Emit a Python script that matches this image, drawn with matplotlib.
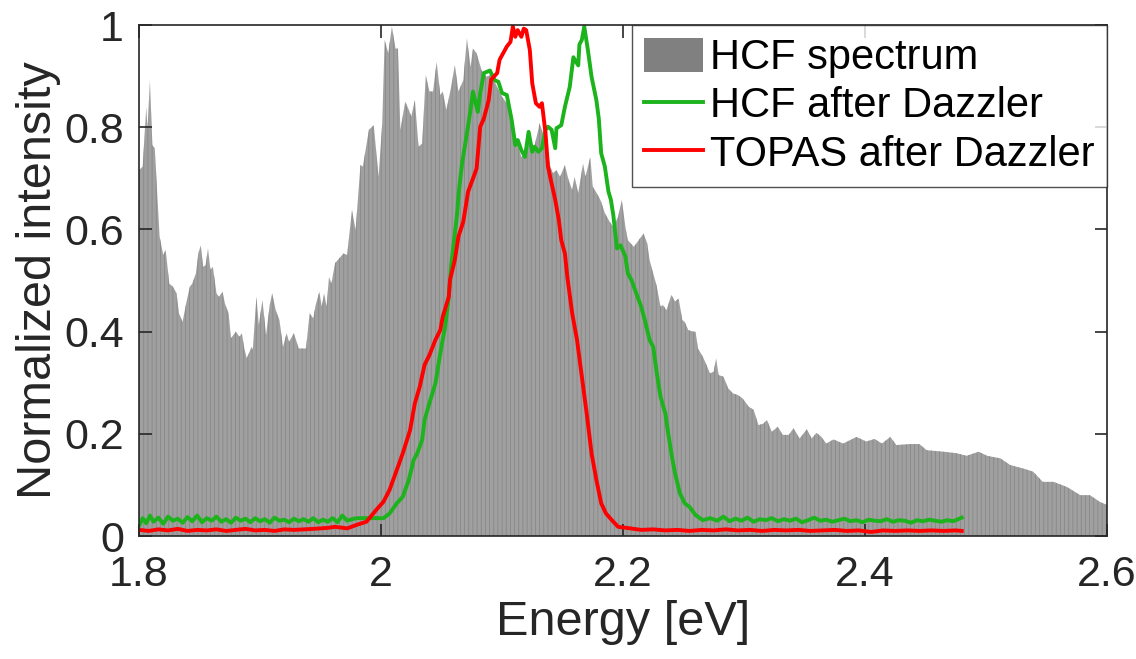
import matplotlib
matplotlib.use("Agg")
import matplotlib.pyplot as plt
from matplotlib.patches import Patch
from matplotlib.lines import Line2D

plt.rcParams['font.family'] = ['Liberation Sans', 'DejaVu Sans']
plt.rcParams['hatch.linewidth'] = 0.6

# HCF spectrum envelope (energy in eV, normalized intensity)
hcf_e = [1.800, 1.803, 1.806, 1.807, 1.809, 1.811, 1.813, 1.815, 1.817, 1.820, 1.822, 1.825,
         1.828, 1.831, 1.833, 1.836, 1.839, 1.842, 1.844, 1.847, 1.849, 1.851, 1.853, 1.855,
         1.857, 1.859, 1.861, 1.864, 1.866, 1.869, 1.871, 1.874, 1.876, 1.880, 1.883, 1.885,
         1.887, 1.889, 1.893, 1.894, 1.897, 1.899, 1.902, 1.905, 1.908, 1.910, 1.913, 1.916,
         1.919, 1.922, 1.924, 1.928, 1.932, 1.938, 1.941, 1.944, 1.946, 1.949, 1.951, 1.953,
         1.955, 1.957, 1.959, 1.962, 1.969, 1.972, 1.976, 1.979, 1.983, 1.985, 1.990, 1.994,
         1.998, 2.001, 2.003, 2.006, 2.009, 2.012, 2.014, 2.016, 2.020, 2.023, 2.025, 2.028,
         2.031, 2.034, 2.037, 2.040, 2.043, 2.046, 2.049, 2.051, 2.054, 2.058, 2.061, 2.064,
         2.068, 2.071, 2.074, 2.076, 2.079, 2.083, 2.087, 2.091, 2.096, 2.100, 2.104, 2.108,
         2.112, 2.116, 2.120, 2.122, 2.126, 2.130, 2.131, 2.136, 2.140, 2.142, 2.145, 2.148,
         2.152, 2.155, 2.158, 2.160, 2.163, 2.167, 2.169, 2.173, 2.175, 2.180, 2.182, 2.185,
         2.189, 2.192, 2.196, 2.199, 2.202, 2.204, 2.209, 2.213, 2.217, 2.220, 2.222, 2.225,
         2.228, 2.231, 2.233, 2.236, 2.240, 2.243, 2.246, 2.249, 2.251, 2.254, 2.258, 2.260,
         2.262, 2.266, 2.269, 2.272, 2.275, 2.277, 2.279, 2.283, 2.287, 2.291, 2.295, 2.299,
         2.304, 2.308, 2.312, 2.316, 2.319, 2.323, 2.328, 2.332, 2.337, 2.341, 2.346, 2.352,
         2.356, 2.360, 2.364, 2.368, 2.374, 2.382, 2.393, 2.401, 2.408, 2.414, 2.421, 2.426,
         2.437, 2.445, 2.451, 2.465, 2.476, 2.484, 2.494, 2.501, 2.512, 2.520, 2.531, 2.539,
         2.547, 2.556, 2.567, 2.578, 2.586, 2.594, 2.600]
hcf_i = [0.716, 0.723, 0.840, 0.795, 0.892, 0.765, 0.759, 0.671, 0.586, 0.550, 0.560, 0.494,
         0.488, 0.475, 0.436, 0.419, 0.456, 0.488, 0.494, 0.514, 0.553, 0.569, 0.527, 0.530,
         0.563, 0.521, 0.527, 0.475, 0.468, 0.478, 0.455, 0.436, 0.387, 0.400, 0.390, 0.397,
         0.367, 0.348, 0.370, 0.364, 0.468, 0.413, 0.462, 0.393, 0.452, 0.475, 0.442, 0.423,
         0.370, 0.397, 0.380, 0.397, 0.367, 0.367, 0.436, 0.426, 0.452, 0.478, 0.449, 0.475,
         0.449, 0.507, 0.494, 0.534, 0.553, 0.550, 0.638, 0.599, 0.726, 0.723, 0.795, 0.804,
         0.703, 0.808, 0.971, 0.945, 0.997, 0.954, 0.954, 0.795, 0.850, 0.834, 0.821, 0.853,
         0.762, 0.768, 0.902, 0.870, 0.870, 0.928, 0.863, 0.870, 0.834, 0.879, 0.922, 0.870,
         0.892, 0.974, 0.918, 0.954, 0.945, 0.912, 0.899, 0.902, 0.879, 0.860, 0.847, 0.814,
         0.775, 0.742, 0.749, 0.795, 0.755, 0.795, 0.808, 0.775, 0.723, 0.710, 0.716, 0.703,
         0.726, 0.697, 0.677, 0.703, 0.671, 0.729, 0.703, 0.742, 0.684, 0.664, 0.654, 0.632,
         0.615, 0.605, 0.625, 0.658, 0.605, 0.579, 0.566, 0.579, 0.592, 0.573, 0.540, 0.514,
         0.488, 0.449, 0.452, 0.442, 0.472, 0.459, 0.465, 0.423, 0.419, 0.403, 0.400, 0.400,
         0.367, 0.351, 0.335, 0.318, 0.322, 0.348, 0.315, 0.312, 0.289, 0.279, 0.276, 0.269,
         0.253, 0.247, 0.217, 0.220, 0.227, 0.204, 0.214, 0.198, 0.198, 0.211, 0.191, 0.209,
         0.191, 0.202, 0.194, 0.181, 0.189, 0.181, 0.194, 0.185, 0.190, 0.181, 0.194, 0.178,
         0.180, 0.180, 0.168, 0.165, 0.162, 0.157, 0.165, 0.157, 0.152, 0.139, 0.132, 0.126,
         0.106, 0.106, 0.096, 0.080, 0.080, 0.067, 0.061]

# HCF after Dazzler (green)
green_e = [1.800, 1.803, 1.806, 1.809, 1.812, 1.816, 1.820, 1.824, 1.828, 1.832, 1.836, 1.840,
           1.844, 1.848, 1.852, 1.856, 1.860, 1.864, 1.868, 1.872, 1.876, 1.880, 1.884, 1.888,
           1.892, 1.896, 1.900, 1.904, 1.908, 1.912, 1.916, 1.920, 1.924, 1.928, 1.932, 1.936,
           1.940, 1.944, 1.948, 1.952, 1.956, 1.960, 1.964, 1.968, 1.972, 1.976, 1.980, 1.985,
           2.002, 2.007, 2.013, 2.018, 2.023, 2.027, 2.030, 2.034, 2.036, 2.040, 2.045, 2.049,
           2.053, 2.056, 2.058, 2.063, 2.064, 2.067, 2.071, 2.074, 2.076, 2.080, 2.082, 2.085,
           2.090, 2.094, 2.097, 2.100, 2.104, 2.108, 2.111, 2.113, 2.116, 2.119, 2.122, 2.125,
           2.127, 2.130, 2.133, 2.136, 2.138, 2.141, 2.144, 2.145, 2.149, 2.152, 2.156, 2.159,
           2.163, 2.164, 2.166, 2.168, 2.171, 2.174, 2.178, 2.180, 2.182, 2.185, 2.188, 2.190,
           2.192, 2.195, 2.198, 2.202, 2.204, 2.207, 2.211, 2.215, 2.218, 2.222, 2.225, 2.228,
           2.231, 2.235, 2.237, 2.240, 2.243, 2.247, 2.251, 2.255, 2.260, 2.266, 2.272, 2.278,
           2.283, 2.288, 2.293, 2.298, 2.303, 2.308, 2.313, 2.318, 2.323, 2.328, 2.333, 2.338,
           2.343, 2.348, 2.353, 2.358, 2.363, 2.368, 2.373, 2.378, 2.383, 2.388, 2.393, 2.398,
           2.403, 2.408, 2.413, 2.418, 2.423, 2.428, 2.433, 2.438, 2.443, 2.448, 2.453, 2.458,
           2.463, 2.468, 2.473, 2.478, 2.480]
green_i = [0.020, 0.035, 0.025, 0.040, 0.028, 0.036, 0.024, 0.038, 0.030, 0.034, 0.026, 0.037,
           0.029, 0.040, 0.027, 0.035, 0.030, 0.038, 0.028, 0.033, 0.026, 0.036, 0.030, 0.034,
           0.027, 0.035, 0.029, 0.033, 0.026, 0.036, 0.030, 0.032, 0.027, 0.034, 0.029, 0.033,
           0.028, 0.035, 0.027, 0.032, 0.028, 0.035, 0.027, 0.040, 0.030, 0.033, 0.035, 0.035,
           0.035, 0.044, 0.064, 0.077, 0.110, 0.149, 0.162, 0.188, 0.227, 0.260, 0.299, 0.358,
           0.410, 0.468, 0.530, 0.632, 0.667, 0.729, 0.788, 0.834, 0.870, 0.830, 0.867, 0.906,
           0.911, 0.892, 0.889, 0.867, 0.863, 0.814, 0.765, 0.775, 0.755, 0.742, 0.791, 0.752,
           0.762, 0.752, 0.759, 0.795, 0.801, 0.795, 0.759, 0.798, 0.804, 0.840, 0.879, 0.937,
           0.921, 0.962, 0.971, 0.997, 0.951, 0.899, 0.853, 0.817, 0.749, 0.723, 0.674, 0.658,
           0.628, 0.563, 0.569, 0.547, 0.514, 0.501, 0.475, 0.449, 0.423, 0.384, 0.370, 0.318,
           0.273, 0.240, 0.207, 0.162, 0.123, 0.084, 0.064, 0.057, 0.041, 0.031, 0.035, 0.030,
           0.038, 0.029, 0.034, 0.030, 0.036, 0.028, 0.033, 0.031, 0.035, 0.029, 0.033, 0.030,
           0.034, 0.027, 0.031, 0.036, 0.030, 0.032, 0.028, 0.031, 0.034, 0.029, 0.031, 0.027,
           0.032, 0.030, 0.029, 0.033, 0.028, 0.031, 0.030, 0.026, 0.031, 0.029, 0.032, 0.030,
           0.028, 0.031, 0.029, 0.034, 0.036]

# TOPAS after Dazzler (red)
red_e = [1.800, 1.808, 1.816, 1.824, 1.832, 1.840, 1.848, 1.856, 1.864, 1.872, 1.880, 1.888,
         1.896, 1.904, 1.912, 1.920, 1.928, 1.936, 1.944, 1.950, 1.956, 1.962, 1.972, 1.980,
         1.988, 1.996, 2.002, 2.007, 2.013, 2.018, 2.024, 2.028, 2.032, 2.036, 2.040, 2.045,
         2.049, 2.051, 2.056, 2.057, 2.061, 2.064, 2.068, 2.072, 2.075, 2.079, 2.082, 2.085,
         2.089, 2.091, 2.096, 2.098, 2.101, 2.104, 2.107, 2.109, 2.111, 2.113, 2.116, 2.118,
         2.120, 2.123, 2.125, 2.128, 2.131, 2.133, 2.136, 2.138, 2.141, 2.144, 2.147, 2.149,
         2.152, 2.154, 2.158, 2.162, 2.166, 2.170, 2.174, 2.178, 2.182, 2.186, 2.192, 2.196,
         2.206, 2.215, 2.225, 2.235, 2.245, 2.255, 2.265, 2.275, 2.285, 2.295, 2.305, 2.315,
         2.325, 2.335, 2.345, 2.355, 2.365, 2.375, 2.385, 2.395, 2.405, 2.415, 2.425, 2.435,
         2.445, 2.455, 2.465, 2.475, 2.480]
red_i = [0.012, 0.010, 0.013, 0.011, 0.014, 0.010, 0.012, 0.011, 0.013, 0.010, 0.012, 0.014,
         0.011, 0.012, 0.010, 0.013, 0.012, 0.013, 0.014, 0.015, 0.016, 0.018, 0.015, 0.022,
         0.028, 0.051, 0.067, 0.090, 0.129, 0.162, 0.207, 0.260, 0.292, 0.335, 0.354, 0.384,
         0.403, 0.429, 0.468, 0.501, 0.540, 0.586, 0.615, 0.674, 0.693, 0.719, 0.801, 0.817,
         0.853, 0.893, 0.906, 0.932, 0.945, 0.958, 0.967, 0.997, 0.977, 0.990, 0.977, 0.993,
         0.990, 0.951, 0.886, 0.847, 0.840, 0.847, 0.788, 0.723, 0.690, 0.658, 0.618, 0.579,
         0.553, 0.507, 0.436, 0.384, 0.312, 0.240, 0.162, 0.110, 0.064, 0.044, 0.028, 0.018,
         0.015, 0.012, 0.013, 0.011, 0.012, 0.010, 0.012, 0.011, 0.013, 0.011, 0.012, 0.010,
         0.012, 0.011, 0.012, 0.010, 0.011, 0.012, 0.010, 0.011, 0.008, 0.011, 0.010, 0.011,
         0.010, 0.011, 0.010, 0.011, 0.010]

labels = ["HCF spectrum", "HCF after Dazzler", "TOPAS after Dazzler"]
GRAY = "#808080"
GREEN = "#1cb31c"
RED = "#ff0000"
DARK = "#262626"
LW = 2.8

fig = plt.figure(figsize=(11.36, 6.59), dpi=100)
ax = fig.add_axes([0.1224, 0.1866, 0.852, 0.7754])

ax.fill_between(hcf_e, 0, hcf_i, facecolor="#a0a0a0", edgecolor="#888888",
                hatch="||||", linewidth=0, zorder=1)
ax.plot(green_e, green_i, color=GREEN, lw=LW, zorder=3)
ax.plot(red_e, red_i, color=RED, lw=LW, zorder=4)

ax.set_xlim(1.8, 2.6)
ax.set_ylim(0, 1)
ax.set_xticks([1.8, 2.0, 2.2, 2.4, 2.6])
ax.set_xticklabels(["1.8", "2", "2.2", "2.4", "2.6"])
ax.set_yticks([0, 0.2, 0.4, 0.6, 0.8, 1.0])
ax.set_yticklabels(["0", "0.2", "0.4", "0.6", "0.8", "1"])
ax.tick_params(direction="in", length=9, width=1.2, color=DARK,
               top=True, right=True, labelsize=31, labelcolor=DARK)
ax.tick_params(axis="x", pad=14)
ax.tick_params(axis="y", pad=11)
for s in ax.spines.values():
    s.set_color(DARK)
    s.set_linewidth(1.2)
    s.set_zorder(5)

ax.set_xlabel("Energy [eV]", fontsize=35, color=DARK, labelpad=3)
ax.set_ylabel("Normalized intensity", fontsize=35, color=DARK, labelpad=2)

handles = [Patch(facecolor=GRAY, edgecolor="none"),
           Line2D([], [], color=GREEN, lw=LW),
           Line2D([], [], color=RED, lw=LW)]
leg = ax.legend(handles, labels, loc="upper right", fontsize=30, frameon=True,
                fancybox=False, borderaxespad=0, handlelength=1.4, handleheight=0.9,
                handletextpad=0.17, labelspacing=0.18, borderpad=0.3)
leg.get_frame().set_edgecolor(DARK)
leg.get_frame().set_linewidth(1.0)
leg.set_zorder(6)

fig.savefig("out.png", dpi=100)
